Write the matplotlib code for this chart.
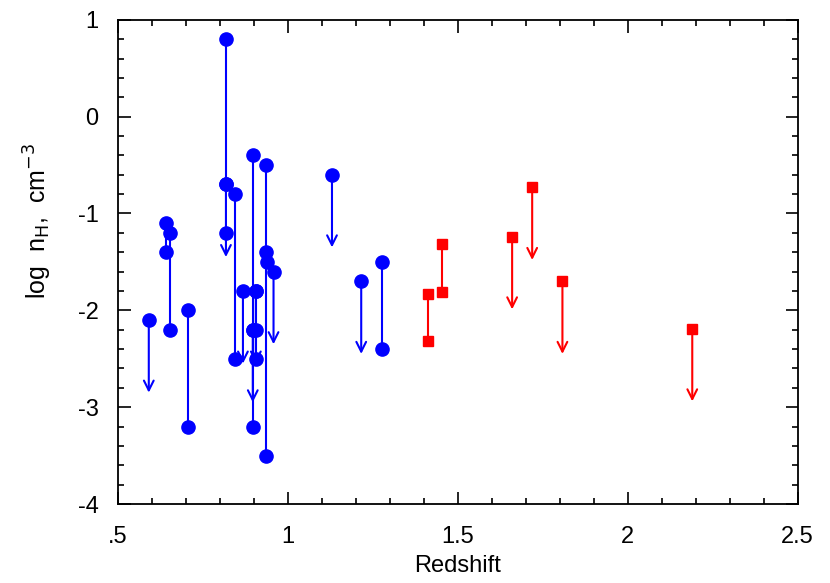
import matplotlib
matplotlib.use("Agg")
import matplotlib.pyplot as plt
from matplotlib.ticker import MultipleLocator

plt.rcParams['font.family'] = ['Liberation Sans', 'DejaVu Sans']

# Blue sample: ranges (z, upper value, lower value)
blue_range_z = [0.641, 0.653, 0.705, 0.818, 0.845, 0.897, 0.906, 0.935, 1.278]
blue_range_hi = [-1.1, -1.2, -2.0, 0.8, -0.8, -0.4, -1.8, -0.5, -1.5]
blue_range_lo = [-1.4, -2.2, -3.2, -0.7, -2.5, -3.2, -2.5, -3.5, -2.4]

# Blue extra points
blue_pt_z = [0.818, 0.897, 0.906, 0.935, 0.938]
blue_pt_v = [-1.2, -2.2, -2.2, -1.4, -1.5]

# Blue upper limits
blue_lim_z = [0.591, 0.818, 0.868, 0.897, 0.906, 0.958, 1.13, 1.216]
blue_lim_v = [-2.1, -0.7, -1.8, -2.2, -1.8, -1.6, -0.6, -1.7]

# Red sample
red_range_z = [1.413, 1.454]
red_range_hi = [-1.83, -1.31]
red_range_lo = [-2.32, -1.81]

red_lim_z = [1.66, 1.719, 1.808, 2.19]
red_lim_v = [-1.24, -0.73, -1.70, -2.19]

arrow_len = 0.75

x_ticks = [0.5, 1.0, 1.5, 2.0, 2.5]
x_labels = ['.5', '1', '1.5', '2', '2.5']
y_ticks = [1, 0, -1, -2, -3, -4]
y_labels = ['1', '0', '-1', '-2', '-3', '-4']

fig = plt.figure(figsize=(8.3, 5.83), dpi=100)
ax = fig.add_axes([0.142, 0.1355, 0.819, 0.8305])

blue = '#0000ff'
red = '#ff0000'

def draw(zs, his, los, lz, lv, color, marker, ms):
    for z, hi, lo in zip(zs, his, los):
        ax.plot([z, z], [hi, lo], color=color, lw=1.5, zorder=2)
        ax.plot([z, z], [hi, lo], linestyle='none', marker=marker, ms=ms,
                color=color, mec=color, zorder=3)
    for z, v in zip(lz, lv):
        ax.annotate('', xy=(z, v - arrow_len), xytext=(z, v),
                    arrowprops=dict(arrowstyle='->,head_length=0.7,head_width=0.35',
                                    color=color, lw=1.5, shrinkA=0, shrinkB=0),
                    zorder=2)
        ax.plot([z], [v], linestyle='none', marker=marker, ms=ms, color=color,
                mec=color, zorder=3)

draw(blue_range_z, blue_range_hi, blue_range_lo, blue_lim_z, blue_lim_v, blue, 'o', 9.5)
ax.plot(blue_pt_z, blue_pt_v, linestyle='none', marker='o', ms=9.5, color=blue, zorder=3)
draw(red_range_z, red_range_hi, red_range_lo, red_lim_z, red_lim_v, red, 's', 6.5)

ax.set_xlim(0.5, 2.5)
ax.set_ylim(-4, 1)
ax.set_xticks(x_ticks)
ax.set_xticklabels(x_labels)
ax.set_yticks(y_ticks)
ax.set_yticklabels(y_labels)
ax.xaxis.set_minor_locator(MultipleLocator(0.1))
ax.yaxis.set_minor_locator(MultipleLocator(0.2))
ax.tick_params(which='both', direction='in', top=True, right=True, width=1.2)
ax.tick_params(which='major', length=9, labelsize=17)
ax.tick_params(axis='x', which='major', pad=16)
ax.tick_params(axis='y', which='major', pad=14)
ax.tick_params(which='minor', length=4.5)
for s in ax.spines.values():
    s.set_linewidth(1.3)

ax.set_xlabel('Redshift', fontsize=17, labelpad=5)
ax.set_ylabel(r'log  n$_{\rm H}$,  cm$^{-3}$', fontsize=18, labelpad=14)
ax.yaxis.set_label_coords(-0.094, 0.585)

fig.savefig('out.png', dpi=100)
